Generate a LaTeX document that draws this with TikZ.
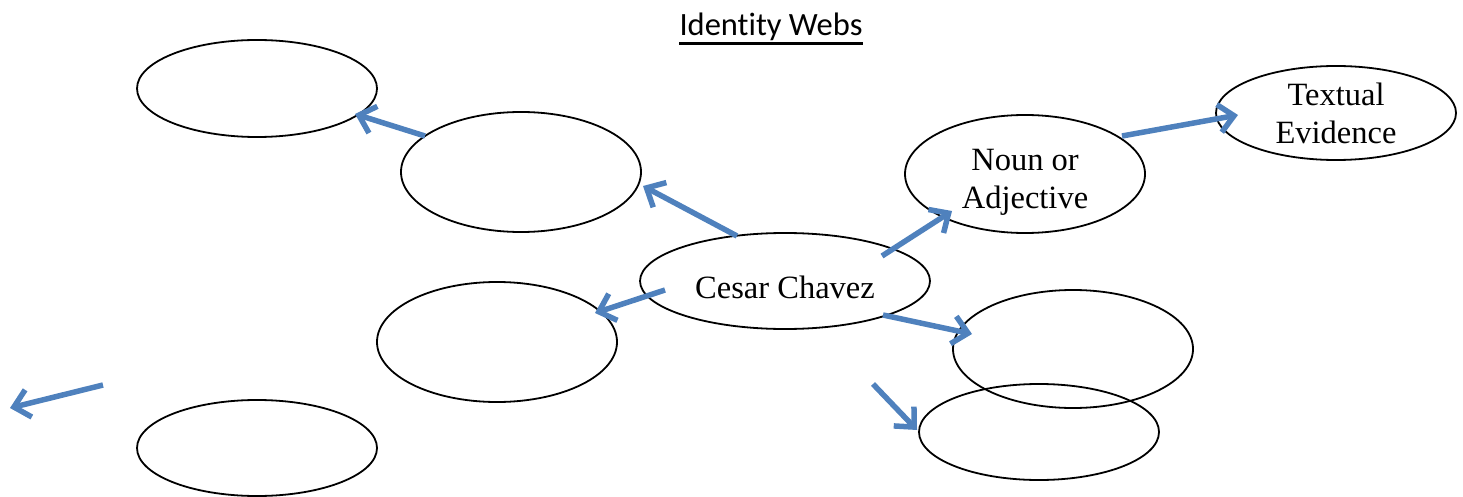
\documentclass[tikz,border=0pt]{standalone}
\usepackage{fontspec}
\setmainfont{Liberation Serif}
\newfontfamily\titlefont[Ligatures=NoCommon]{Carlito}
\usetikzlibrary{arrows.meta}
\definecolor{arrowblue}{HTML}{4F81BD}
\tikzset{
  webshape/.style={draw=black, line width=1.8pt},
  lbl/.style={font=\fontsize{32.5}{38}\selectfont, align=center},
  bluearrow/.style={draw=arrowblue, line width=5.5pt, -{Straight Barb[length=15pt, width=28pt, line width=5.5pt]}}
}
\begin{document}
\begin{tikzpicture}[x=1pt, y=-1pt]
\useasboundingbox (0,0) rectangle (1463,497);
% ellipses
\draw[webshape] (257,88.5) ellipse [x radius=120, y radius=48.5];
\draw[webshape] (521,172) ellipse [x radius=120, y radius=60];
\draw[webshape] (785,281) ellipse [x radius=145, y radius=48];
\draw[webshape] (497,342) ellipse [x radius=120, y radius=60];
\draw[webshape] (257,448) ellipse [x radius=120, y radius=48];
\draw[webshape] (1025,174) ellipse [x radius=120, y radius=59];
\draw[webshape] (1336,113) ellipse [x radius=120, y radius=47];
\draw[webshape] (1073,349) ellipse [x radius=120, y radius=59];
\draw[webshape] (1039,432) ellipse [x radius=120, y radius=48];
% labels
\node[inner sep=0pt] (title) at (771,27) {\titlefont\fontsize{32.5}{36}\selectfont Identity Webs};
\draw[line width=3pt] ([yshift=-2pt]title.south west) -- ([yshift=-2pt]title.south east);
\node[lbl] (cesar) at (785,287) {Cesar Chavez};
\node[lbl] (noun) at (1025,182) {Noun or\\Adjective};
\node[lbl] (textual) at (1336,113) {Textual\\Evidence};
% arrow coordinates
\coordinate (a1) at (425,136); \coordinate (a2) at (355,114);
\coordinate (b1) at (737,236); \coordinate (b2) at (643,186);
\coordinate (c1) at (665,290); \coordinate (c2) at (595,313);
\coordinate (d1) at (882,256); \coordinate (d2) at (952,211);
\coordinate (e1) at (1122,136); \coordinate (e2) at (1238,115);
\coordinate (f1) at (883,315); \coordinate (f2) at (972,334);
\coordinate (g1) at (103,385); \coordinate (g2) at (10,408);
\coordinate (h1) at (873,384); \coordinate (h2) at (917,430);
\foreach \s in {a,b,c,d,e,f,g,h} {
  \draw[bluearrow] (\s1) -- (\s2);
}
\end{tikzpicture}
\end{document}
